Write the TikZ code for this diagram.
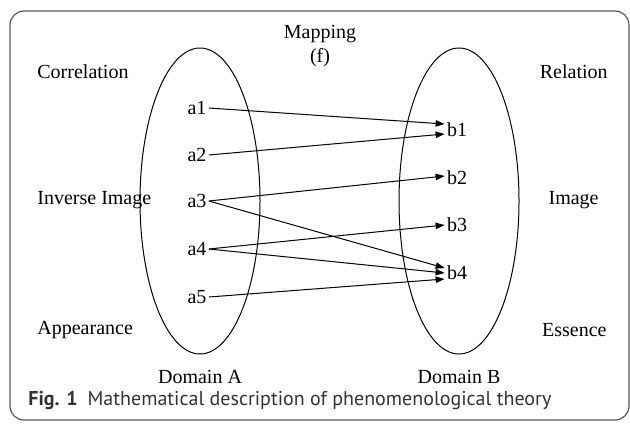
\documentclass[tikz,border=0pt]{standalone}
\usepackage{fontspec}
\setmainfont{Liberation Serif}
\newfontfamily\capfont{PT Sans}
\usetikzlibrary{positioning,arrows.meta,shapes.geometric}
\definecolor{framegray}{HTML}{5A5A5A}
\definecolor{captext}{HTML}{333333}

\begin{document}
\begin{tikzpicture}[x=0.5pt, y=-0.5pt, every node/.style={font=\fontsize{10}{12}\selectfont, inner sep=1pt},
    domainset/.style={draw, ellipse, line width=0.5pt, minimum width=60pt, minimum height=153pt, inner sep=0pt},
    maparrow/.style={-{Triangle[length=4.5pt, width=3.2pt]}, line width=0.5pt}]
  \useasboundingbox (0,0) rectangle (630,423);
  \draw[framegray, line width=0.6pt, rounded corners=7pt] (10,11) rectangle (629,420);
  % the two domains
  \node[domainset] (domA) at (200,201) {};
  \node[domainset] (domB) at (459,201) {};
  \node (nameA) at (200,377) {Domain A};
  \node (nameB) at (459,377) {Domain B};
  % side labels
  \node[anchor=west] (corr) at (35,72) {Correlation};
  \node[anchor=west] (inv) at (35,200) {Inverse Image};
  \node[anchor=west] (appear) at (35,330) {Appearance};
  \node[anchor=east] (rel) at (610,72) {Relation};
  \node[anchor=east] (img) at (601,200) {Image};
  \node[anchor=east] (ess) at (609,330) {Essence};
  \node[align=center] (map) at (320,46) {Mapping\\(f)};
  % elements
  \node (a1) at (197,108) {a1};
  \node (a2) at (197,155) {a2};
  \node (a3) at (197,201) {a3};
  \node (a4) at (197,249) {a4};
  \node (a5) at (197,297) {a5};
  \node (b1) at (457,130) {b1};
  \node (b2) at (457,178) {b2};
  \node (b3) at (457,225) {b3};
  \node (b4) at (457,273) {b4};
  % the mapping f
  \draw[maparrow] (a1.east) -- ([yshift=3pt]b1.west);
  \draw[maparrow] (a2.east) -- ([yshift=-2pt]b1.west);
  \draw[maparrow] (a3.east) -- ([yshift=1pt]b2.west);
  \draw[maparrow] (a3.east) -- ([yshift=2.5pt]b4.west);
  \draw[maparrow] (a4.east) -- (b3.west);
  \draw[maparrow] (a4.east) -- (b4.west);
  \draw[maparrow] (a5.east) -- ([yshift=-3pt]b4.west);
  % caption
  \node[anchor=west, font=\capfont\fontsize{10}{12}\selectfont, text=captext] (cap) at (26,400)
    {\textbf{Fig. 1}\hspace{5pt}Mathematical description of phenomenological theory};
\end{tikzpicture}
\end{document}
